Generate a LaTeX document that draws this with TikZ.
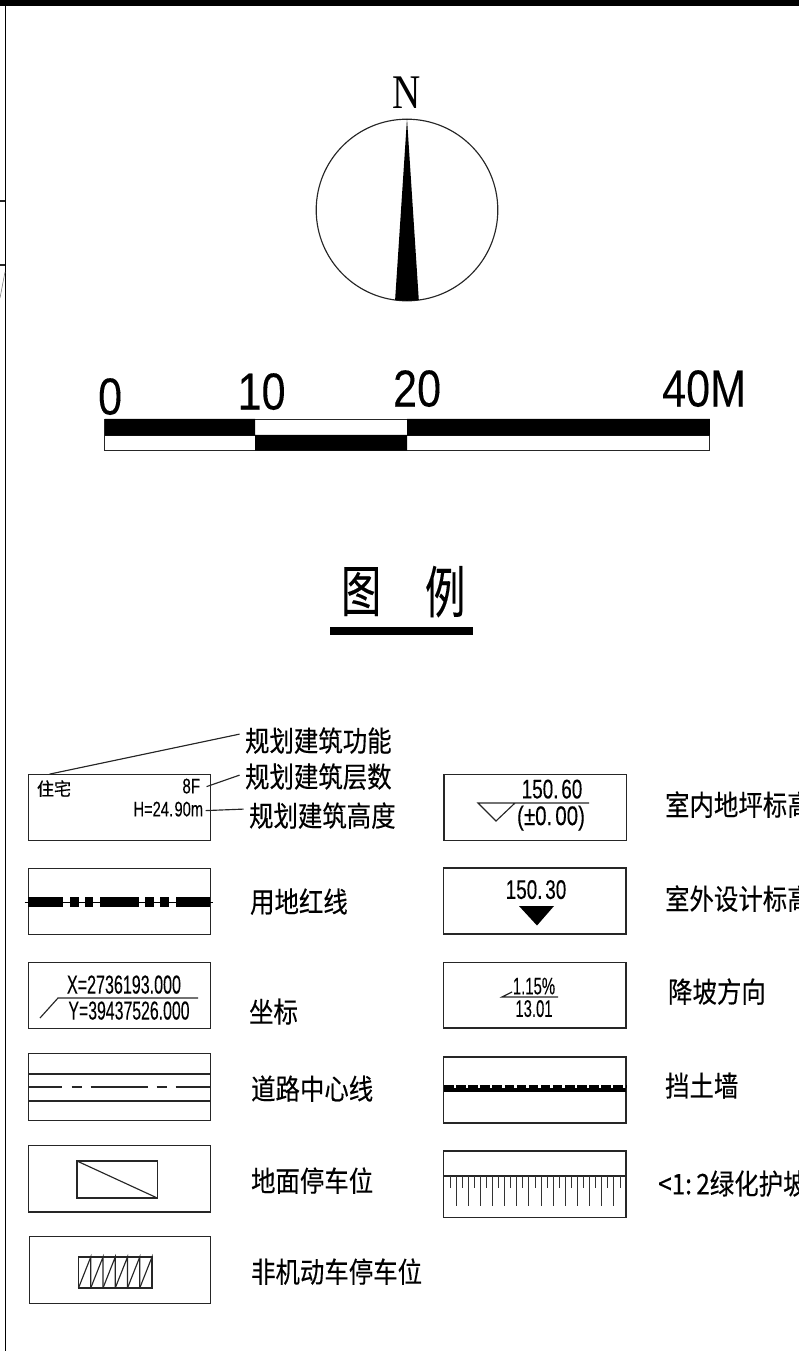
\documentclass[tikz,border=0pt]{standalone}
\usepackage{fontspec}
\usepackage{graphicx}
\newfontfamily\cjkf[FakeBold=0.25]{Noto Sans CJK SC}
\newfontfamily\latf[FakeBold=0.15]{Liberation Sans}
\newfontfamily\serf{Liberation Serif}
\newcommand{\cjklabel}[1]{\scalebox{.857}[1]{\fontsize{28.5}{28.5}\selectfont\cjkf #1}}
\newcommand{\narrowtxt}[3]{\scalebox{#2}[1]{\fontsize{#1}{#1}\selectfont\latf #3}}
\newcommand{\bigdigits}[1]{\scalebox{.83}[1]{\fontsize{52}{52}\selectfont\latf #1}}
\tikzset{
 x=1pt,y=-1pt,
 thinline/.style={line width=1.15pt,draw=black!85},
 legendbox/.style={thinline},
 leg/.style={anchor=west,inner sep=0pt,outer sep=0pt},
 txt/.style={inner sep=0pt,outer sep=0pt},
}
\begin{document}
\begin{tikzpicture}
\useasboundingbox (0,0) rectangle (799,1351);
\clip (0,0) rectangle (799,1351);
% sheet frame
\fill (0,0) rectangle (799,6);
\draw[line width=1.5pt] (5.5,0) -- (5.5,1351);
\draw[thinline] (0,201) -- (5,201) (0,265) -- (5,265);
\draw[line width=.6pt,draw=black!50] (0,298) -- (5,272);
\begin{scope}[shift={(-.4,-.4)}]
% north arrow
\node[txt] (north) at (407.5,93) {\scalebox{.85}[1.05]{\fontsize{46}{46}\selectfont\serf N}};
\draw[thinline] (407.4,210.4) circle (90.8);
\fill (407.4,119) -- (419.2,300.4) arc[start angle=82.5,end angle=97.5,radius=90.8] -- cycle;
% scale bar
\draw[thinline] (105.2,419.5) rectangle (710.2,450.8);
\draw[thinline] (105.2,435.5) -- (710.2,435.5);
\fill (105.2,419.2) rectangle (255.5,436) (255.5,435.2) rectangle (407.5,451) (407.5,419.2) rectangle (710.2,436);
\node[txt] (s0) at (110.5,397) {\bigdigits{0}};
\node[txt] (s10) at (262,392) {\bigdigits{10}};
\node[txt] (s20) at (417.5,389) {\bigdigits{20}};
\node[txt] (s40) at (704.5,389) {\bigdigits{40M}};
% title
\node[txt] (t1) at (361.5,592) {\scalebox{.72}[1]{\fontsize{56}{56}\selectfont\cjkf 图}};
\node[txt] (t2) at (445.5,592) {\scalebox{.72}[1]{\fontsize{56}{56}\selectfont\cjkf 例}};
\fill (330.4,627.4) rectangle (473.4,635.4);
% left boxes
\draw[legendbox] (28.5,775) rectangle (210.5,840.7);
\draw[legendbox] (28.5,869) rectangle (210.5,934.7);
\draw[legendbox] (28.5,963) rectangle (210.5,1029);
\draw[legendbox] (28.8,1054) rectangle (210.8,1120.7);
\draw[legendbox] (29.2,1145.6) rectangle (211,1212.4);
\draw[legendbox] (29.5,1237.3) rectangle (211.3,1304);
% box 1
\node[txt] (zhu) at (54.4,789) {\scalebox{.95}[1]{\fontsize{18}{18}\selectfont\cjkf 住宅}};
\node[txt,anchor=east] (ef) at (200.5,786.5) {\narrowtxt{21}{.72}{8F}};
\node[txt,anchor=east] (hh) at (203.5,809.5) {\narrowtxt{21}{.7}{H=24.\kern2pt 90m}};
\node[leg] (l1) at (245.5,741) {\cjklabel{规划建筑功能}};
\node[leg] (l2) at (245.5,777) {\cjklabel{规划建筑层数}};
\node[leg] (l3) at (249.5,816) {\cjklabel{规划建筑高度}};
\coordinate (c1) at (50,774.5);
\coordinate (c2) at (207,787);
\coordinate (c3) at (206,811);
\coordinate (e1) at (240,734.5);
\coordinate (e2) at (240,775.5);
\coordinate (e3) at (244,809.5);
\draw[thinline] (c1) -- (e1);
\draw[thinline] (c2) -- (e2);
\draw[thinline] (c3) -- (e3);
% box 2
\draw[line width=.6pt] (25,902.4) -- (213,902.4);
\foreach \a/\b in {28.5/63.4,70/79.4,85/93.4,100/139.4,145/154.4,160/169.4,176/210.7}
  \fill (\a,897.4) rectangle (\b,907.4);
\node[leg] (l4) at (250.5,902) {\cjklabel{用地红线}};
% box 3
\node[txt] (xv) at (124.4,985) {\scalebox{.67}[1.08]{\fontsize{24}{24}\selectfont\latf X=2736193.000}};
\node[txt] (yv) at (129.4,1011) {\scalebox{.66}[1.08]{\fontsize{24}{24}\selectfont\latf Y=39437526.000}};
\draw[thinline] (40.4,1018.4) -- (58.4,998.4) -- (198.4,998.4);
\node[leg] (l5) at (249.5,1012) {\cjklabel{坐标}};
% box 4
\draw[thinline] (28.8,1074.4) -- (210.8,1074.4) (28.8,1101.4) -- (210.8,1101.4);
\foreach \a/\b in {28.8/62.4,72/82.4,91/148.4,157/167.4,176/210.8}
  \draw[thinline] (\a,1087.4) -- (\b,1087.4);
\node[leg] (l6) at (251.5,1089) {\cjklabel{道路中心线}};
% box 5
\draw[thinline] (77.4,1161.4) rectangle (157.7,1198.4);
\draw[thinline] (77.4,1161.4) -- (157.7,1198.4);
\node[leg] (l7) at (251.5,1181) {\cjklabel{地面停车位}};
% box 6
\draw[thinline] (78.9,1257.4) rectangle (152.4,1288.4);
\foreach \k in {0,...,5} {
  \pgfmathsetmacro{\xa}{78.9+12.25*\k}
  \pgfmathsetmacro{\xb}{78.9+12.25*(\k+1)}
  \draw[thinline] (\xa,1288.4) -- (\xb,1257.4) -- (\xb,1288.4);
}
\node[leg] (l8) at (251.5,1272) {\cjklabel{非机动车停车位}};
% right boxes
\draw[legendbox] (444.4,774.9) rectangle (626.7,840.9);
\draw[legendbox] (443.9,868.4) rectangle (626.4,934.4);
\draw[legendbox] (443.9,962.9) rectangle (626.4,1028.4);
\draw[legendbox] (443.9,1057.4) rectangle (626.4,1123.4);
\draw[legendbox] (443.9,1151.4) rectangle (626.4,1217.7);
% r1
\node[txt] (r1a) at (552.4,789.5) {\narrowtxt{27}{.7}{150.\kern4pt 60}};
\node[txt] (r1b) at (551.4,818.5) {\narrowtxt{27}{.76}{(±0.\kern4pt 00)}};
\draw[thinline] (589.4,803.4) -- (478.4,803.4) -- (496.4,821.4) -- (515.4,803.4);
\node[leg] (r1) at (665.5,805) {\cjklabel{室内地坪标高}};
% r2
\node[txt] (r2a) at (536.4,890) {\narrowtxt{27}{.7}{150.\kern4pt 30}};
\fill (519.4,906.4) -- (554.4,906.4) -- (537.4,925.9) -- cycle;
\node[leg] (r2) at (665.5,899) {\cjklabel{室外设计标高}};
% r3
\node[txt] (r3a) at (534.4,986.5) {\narrowtxt{24}{.62}{1.15\%}};
\node[txt] (r3b) at (534.4,1009) {\narrowtxt{24}{.62}{13.01}};
\draw[thinline] (512.4,992.4) -- (502.4,997.4) -- (558.4,997.4);
\node[leg] (r3) at (668.5,992) {\cjklabel{降坡方向}};
% r4
\fill (443.9,1087.9) rectangle (626.4,1091.9);
\draw[line width=2.5pt,dash pattern=on 9.5pt off 2.6pt] (444.4,1086.9) -- (626.4,1086.9);
\node[leg] (r4) at (665.5,1086) {\cjklabel{挡土墙}};
% r5
\draw[thinline] (443.9,1176.4) -- (626.4,1176.4);
\foreach \k in {0,...,28} {
  \pgfmathsetmacro{\xx}{450.4+6.07*\k}
  \ifodd\k \draw[line width=.9pt,draw=black!80] (\xx,1176.4) -- (\xx,1206.4);
  \else \draw[line width=.9pt,draw=black!80] (\xx,1176.4) -- (\xx,1188.4); \fi
}
\node[leg] (r5) at (658.5,1184) {\cjklabel{<1:\kern5pt 2绿化护坡}};
\end{scope}
\end{tikzpicture}
\end{document}
